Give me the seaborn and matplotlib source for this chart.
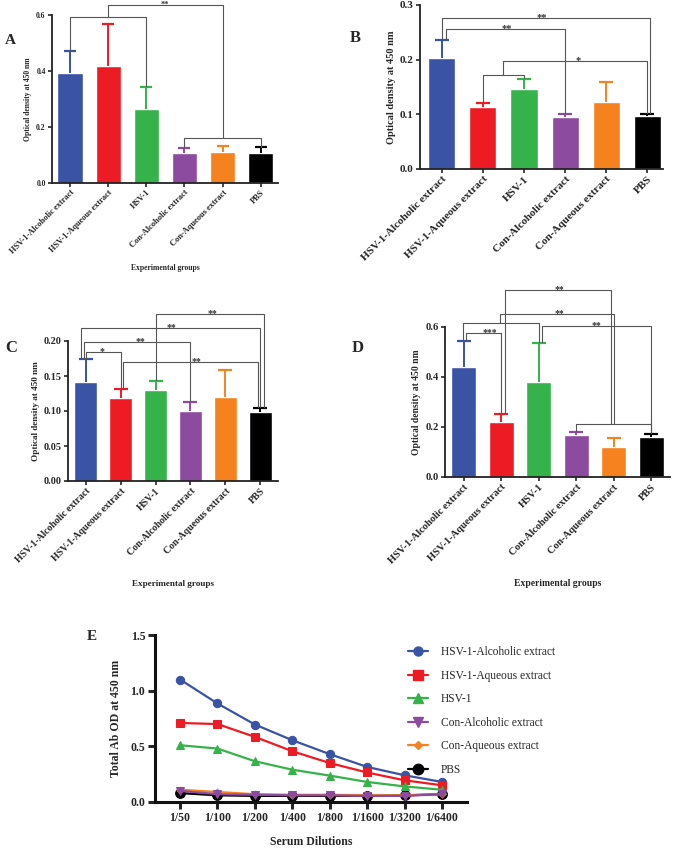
import matplotlib
matplotlib.use("Agg")
import matplotlib.pyplot as plt
import seaborn as sns
import pandas as pd
from matplotlib.lines import Line2D

# group names and colours shared by all panels
groups = ['HSV-1-Alcoholic extract', 'HSV-1-Aqueous extract', 'HSV-1',
          'Con-Alcoholic extract', 'Con-Aqueous extract', 'PBS']
colors = ['#3A53A4', '#ED1C24', '#36B24A', '#8D4B9F', '#F5821F', '#000000']

# panel A-D: mean OD and upper error (SD)
A_mean = [0.393, 0.418, 0.264, 0.108, 0.112, 0.106]
A_err = [0.078, 0.149, 0.080, 0.017, 0.021, 0.021]
B_mean = [0.203, 0.114, 0.146, 0.095, 0.122, 0.097]
B_err = [0.033, 0.007, 0.018, 0.006, 0.038, 0.004]
C_mean = [0.141, 0.118, 0.130, 0.100, 0.120, 0.098]
C_err = [0.033, 0.013, 0.013, 0.013, 0.038, 0.007]
D_mean = [0.440, 0.220, 0.380, 0.168, 0.120, 0.160]
D_err = [0.105, 0.032, 0.156, 0.012, 0.036, 0.012]

# panel E: total Ab OD by serum dilution
dilutions = ['1/50', '1/100', '1/200', '1/400', '1/800', '1/1600', '1/3200', '1/6400']
E_alc = [1.10, 0.885, 0.696, 0.555, 0.43, 0.315, 0.24, 0.18]
E_aq = [0.71, 0.70, 0.585, 0.456, 0.35, 0.265, 0.195, 0.15]
E_hsv = [0.51, 0.48, 0.366, 0.29, 0.237, 0.18, 0.14, 0.11]
E_conalc = [0.10, 0.07, 0.065, 0.06, 0.06, 0.055, 0.055, 0.07]
E_conaq = [0.11, 0.09, 0.07, 0.065, 0.065, 0.06, 0.06, 0.07]
E_pbs = [0.08, 0.06, 0.055, 0.055, 0.055, 0.055, 0.06, 0.07]

sns.set_style('ticks')
plt.rcParams['font.family'] = ['Liberation Serif', 'DejaVu Serif']
plt.rcParams['font.weight'] = 'bold'
plt.rcParams['axes.labelweight'] = 'bold'

W, H = 674, 849
fig = plt.figure(figsize=(W / 100, H / 100), dpi=100)


def box(l, t, r, b):
    return [l / W, 1 - b / H, (r - l) / W, (b - t) / H]


def link(ax, xs, ys):
    ax.plot(xs, ys, color='#555555', lw=0.8, clip_on=False, zorder=5)


def star(ax, x, y, s, fs):
    # baseline just under the bracket line so the asterisks sit on top of it
    ax.annotate(s, (x, y), xytext=(0, -1.5), textcoords='offset points',
                ha='center', va='baseline', fontsize=fs, color='#333333',
                annotation_clip=False)


def bar_panel(rect, means, errs, ylim, yticks, xlim, fs_tick, fs_x, fs_lab, xlabel, cap, xpad):
    ax = fig.add_axes(box(*rect))
    sns.barplot(x=groups, y=means, hue=groups, palette=colors, legend=False,
                saturation=1, width=0.66, ax=ax)
    for i, (m, e, c) in enumerate(zip(means, errs, colors)):
        eb = ax.errorbar(i, m, yerr=[[0], [e]], color=c, capsize=cap, elinewidth=1.4, capthick=1.6)
        for cl in eb[1]:
            if abs(cl.get_ydata()[0] - m) < 1e-9:
                cl.set_visible(False)
    ax.set_ylim(*ylim)
    ax.set_yticks(yticks)
    ax.set_xlim(*xlim)
    sns.despine(ax=ax)
    for s in ['left', 'bottom']:
        ax.spines[s].set_linewidth(1.3)
        ax.spines[s].set_color('#222222')
    ax.tick_params(axis='y', labelsize=fs_tick, width=1.2, length=3, pad=1.5)
    ax.tick_params(axis='x', labelsize=fs_x, width=1.2, length=3, pad=1)
    ax.set_xticks(range(len(groups)))
    ax.set_xticklabels(groups, rotation=45, ha='right', rotation_mode='anchor')
    ax.set_ylabel('Optical density at 450 nm', fontsize=fs_lab, labelpad=3)
    ax.set_xlabel(xlabel, fontsize=fs_lab, labelpad=xpad)
    return ax


# ---- Panel A
axA = bar_panel((52, 15, 278, 183), A_mean, A_err, (0, 0.6), [0, 0.2, 0.4, 0.6],
                (-0.47, 5.45), 5.5, 6, 5.5, 'Experimental groups', 4, 6)
tA = [m + e + 0.002 for m, e in zip(A_mean, A_err)]
link(axA, [0, 0, 2, 2], [tA[0], 0.592, 0.592, tA[2]])
link(axA, [3, 3, 5, 5], [tA[3], 0.16, 0.16, tA[5]])
link(axA, [1, 1, 4, 4], [0.592, 0.636, 0.636, 0.16])
star(axA, 2.5, 0.636, '**', 6)
fig.text(5 / W, 1 - 40 / H, 'A', fontsize=11, va='center')

# ---- Panel B
axB = bar_panel((420, 5, 663, 169), B_mean, B_err, (0, 0.3), [0, 0.1, 0.2, 0.3],
                (-0.53, 5.38), 8, 8, 7.5, '', 5, 6)
tB = [m + e + 0.002 for m, e in zip(B_mean, B_err)]
link(axB, [0, 0, 5.07, 5.07], [tB[0], 0.276, 0.276, tB[5]])
star(axB, 2.44, 0.276, '**', 7.5)
link(axB, [0.1, 0.1, 3, 3], [tB[0], 0.256, 0.256, tB[3]])
star(axB, 1.59, 0.256, '**', 7.5)
link(axB, [1, 1, 2, 2], [tB[1], 0.172, 0.172, tB[2]])
link(axB, [1.5, 1.5, 4.98, 4.98], [0.172, 0.198, 0.198, tB[5]])
star(axB, 3.32, 0.198, '*', 7.5)
fig.text(350 / W, 1 - 38 / H, 'B', fontsize=12, va='center')

# ---- Panel C
axC = bar_panel((68, 341, 278, 481), C_mean, C_err, (0, 0.2), [0, 0.05, 0.10, 0.15, 0.20],
                (-0.51, 5.51), 7.3, 7, 6.6, 'Experimental groups', 5, 11)
axC.yaxis.set_major_formatter(matplotlib.ticker.FormatStrFormatter('%.2f'))
tC = [m + e + 0.001 for m, e in zip(C_mean, C_err)]
link(axC, [2, 2, 5.12, 5.12], [tC[2], 0.238, 0.238, tC[5]])
star(axC, 3.62, 0.238, '**', 7)
link(axC, [-0.13, -0.13, 5.0, 5.0], [tC[0], 0.218, 0.218, tC[5]])
star(axC, 2.46, 0.218, '**', 7)
link(axC, [-0.05, -0.05, 3, 3], [tC[0], 0.199, 0.199, tC[3]])
star(axC, 1.56, 0.199, '**', 7)
link(axC, [0.02, 0.02, 1, 1], [tC[0], 0.185, 0.185, tC[1]])
star(axC, 0.46, 0.185, '*', 7)
link(axC, [1.06, 1.06, 4.94, 4.94], [tC[1], 0.170, 0.170, tC[5]])
star(axC, 3.18, 0.170, '**', 7)
fig.text(5 / W, 1 - 348 / H, 'C', fontsize=12, va='center')

# ---- Panel D
axD = bar_panel((445, 327, 670, 477), D_mean, D_err, (0, 0.6), [0, 0.2, 0.4, 0.6],
                (-0.5, 5.5), 7.6, 7.5, 6.9, 'Experimental groups', 5, 10)
tD = [m + e + 0.003 for m, e in zip(D_mean, D_err)]
link(axD, [0.05, 0.05, 1.0, 1.0], [tD[0], 0.576, 0.576, tD[1]])
star(axD, 0.69, 0.576, '***', 7)
link(axD, [-0.03, -0.03, 2.0, 2.0], [tD[0], 0.616, 0.616, tD[2]])
link(axD, [0.96, 0.96, 4.0, 4.0], [0.616, 0.652, 0.652, 0.212])
star(axD, 2.55, 0.652, '**', 7)
link(axD, [2.08, 2.08, 5.0, 5.0], [tD[2], 0.604, 0.604, tD[5]])
star(axD, 3.54, 0.604, '**', 7)
link(axD, [1.1, 1.1, 3.93, 3.93], [tD[1], 0.748, 0.748, 0.212])
star(axD, 2.55, 0.748, '**', 7)
link(axD, [3, 3, 5, 5], [tD[3], 0.212, 0.212, tD[5]])
fig.text(352 / W, 1 - 348 / H, 'D', fontsize=12, va='center')

# ---- Panel E
series = [E_alc, E_aq, E_hsv, E_conalc, E_conaq, E_pbs]
markers = ['o', 's', '^', 'v', 'D', 'o']
msizes = [6, 6, 6, 6, 3.5, 7]
zorders = [3, 3, 3, 4, 3, 2]
axE = fig.add_axes(box(155, 635, 467, 802))
handles = []
for g, vals, c, mk, ms, z in zip(groups, series, colors, markers, msizes, zorders):
    df = pd.DataFrame({'pos': range(len(dilutions)), 'od': vals})
    sns.lineplot(data=df, x='pos', y='od', color=c, marker=mk, markersize=ms,
                 markeredgecolor=c, linewidth=1.6, ax=axE, zorder=z)
    handles.append(Line2D([], [], color=c, marker=mk, markersize=ms + 0.5, lw=1.6))
axE.set_ylim(0, 1.5)
axE.set_yticks([0, 0.5, 1.0, 1.5])
axE.set_xlim(-0.67, 7.67)
axE.set_xticks(range(len(dilutions)))
axE.set_xticklabels(dilutions)
sns.despine(ax=axE)
for s in ['left', 'bottom']:
    axE.spines[s].set_linewidth(2.2)
    axE.spines[s].set_color('#111111')
axE.tick_params(labelsize=8.5, width=2.2, length=5, pad=2)
axE.set_xlabel('Serum Dilutions', fontsize=8.5, labelpad=9)
axE.set_ylabel('Total Ab OD at 450 nm', fontsize=8.5, labelpad=6)
fig.legend(handles, groups, loc='upper left', bbox_to_anchor=(398 / W, 1 - 636 / H),
           frameon=False, prop={'weight': 'normal', 'size': 8.3},
           handlelength=1.7, labelspacing=1.0, handletextpad=1.1)
fig.text(87 / W, 1 - 636 / H, 'E', fontsize=11, va='center')

fig.savefig('out.png', dpi=100)
